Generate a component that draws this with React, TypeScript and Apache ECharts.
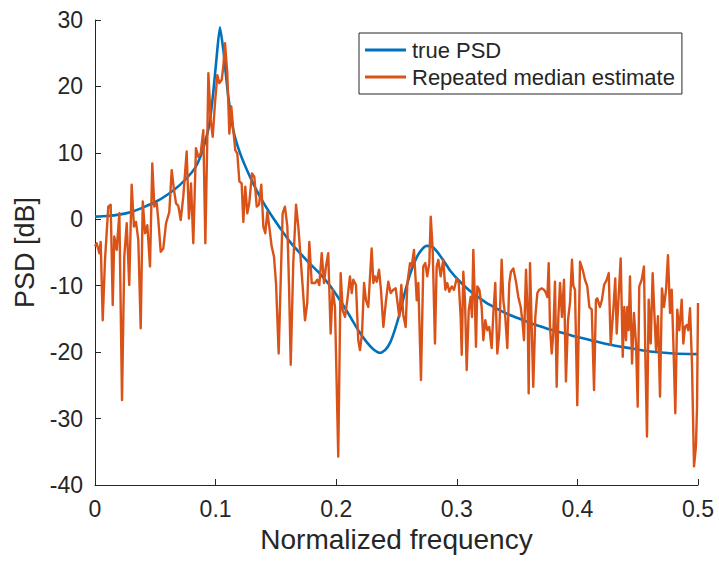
import React, { useEffect, useRef } from "react";
import * as echarts from "echarts";

const xTickValues = [0, 0.1, 0.2, 0.3, 0.4, 0.5];
const yTickValues = [-40, -30, -20, -10, 0, 10, 20, 30];
const seriesNames = ["true PSD", "Repeated median estimate"];

const trueFreq = [
  0, 0.01, 0.02, 0.03, 0.04, 0.05, 0.06, 0.07, 0.08, 0.085, 0.09, 0.095, 0.098, 0.1009,
  0.1036, 0.1064, 0.109, 0.1105, 0.1147, 0.1202, 0.1285, 0.1368, 0.1451, 0.1534, 0.1617,
  0.17, 0.1783, 0.1866, 0.1949, 0.2032, 0.2114, 0.219, 0.2253, 0.231, 0.2363, 0.2405,
  0.2446, 0.2487, 0.2529, 0.257, 0.2612, 0.2653, 0.2695, 0.275, 0.2792, 0.2833, 0.2889,
  0.2944, 0.3027, 0.311, 0.3192, 0.3275, 0.3358, 0.3441, 0.3524, 0.3607, 0.369, 0.3773,
  0.3856, 0.3994, 0.413, 0.427, 0.4436, 0.4602, 0.48, 0.5,
];
const trueDb = [
  0.4, 0.5, 0.7, 1.1, 1.8, 2.6, 3.7, 5.1, 7.0, 8.4, 10.8, 14.5, 19.0, 24.5,
  28.9, 25.5, 21.0, 18.5, 13.4, 10.0, 6.4, 3.4, 0.9, -1.3, -3.4,
  -5.1, -6.7, -8.2, -10.0, -12.2, -14.6, -16.9, -18.5, -19.6, -20.1, -19.7,
  -18.6, -16.6, -14.0, -11.0, -8.3, -6.3, -4.9, -4.0, -4.1, -4.8, -6.2,
  -7.7, -9.4, -10.8, -11.9, -12.9, -13.7, -14.4, -15.0, -15.6, -16.1, -16.6,
  -17.0, -17.7, -18.3, -18.9, -19.4, -19.9, -20.2, -20.3,
];

const estFreq = [
  0.0, 0.0014, 0.0036, 0.0047, 0.0064, 0.0083, 0.011, 0.013, 0.0147, 0.016, 0.018, 0.0202,
  0.0224, 0.0243, 0.0263, 0.0284, 0.0304, 0.0323, 0.034, 0.0359, 0.0379, 0.0396, 0.0415,
  0.0434, 0.0456, 0.0475, 0.0492, 0.0512, 0.0525, 0.0545, 0.0566, 0.0589, 0.0616, 0.0636,
  0.0655, 0.0672, 0.0691, 0.0711, 0.0732, 0.076, 0.0779, 0.0796, 0.0815, 0.0837, 0.0857,
  0.0876, 0.0898, 0.0915, 0.0931, 0.094, 0.0959, 0.0976, 0.0995, 0.1014, 0.1031, 0.1051,
  0.1064, 0.1078, 0.1097, 0.1114, 0.113, 0.1147, 0.1163, 0.118, 0.1197, 0.1216, 0.123,
  0.1246, 0.1263, 0.1279, 0.1302, 0.1321, 0.1341, 0.136, 0.1379, 0.1396, 0.1412, 0.1429,
  0.1445, 0.1465, 0.1484, 0.1501, 0.1523, 0.154, 0.1556, 0.1575, 0.1595, 0.1609, 0.1623,
  0.1644, 0.1667, 0.1686, 0.1706, 0.1722, 0.1741, 0.176, 0.1777, 0.1797, 0.1824, 0.1843,
  0.186, 0.188, 0.1899, 0.1915, 0.1934, 0.1954, 0.1971, 0.199, 0.2017, 0.2037, 0.2054,
  0.2073, 0.2092, 0.2114, 0.2129, 0.2142, 0.2164, 0.2183, 0.2197, 0.2214, 0.2231, 0.2247,
  0.2266, 0.2294, 0.2308, 0.2322, 0.2336, 0.2355, 0.2371, 0.2391, 0.2413, 0.2432, 0.2452,
  0.2473, 0.2493, 0.2506, 0.2523, 0.254, 0.2556, 0.2576, 0.259, 0.2612, 0.2626, 0.2645,
  0.2668, 0.2681, 0.2703, 0.2722, 0.2739, 0.2755, 0.2772, 0.2784, 0.28, 0.2819, 0.2833,
  0.2847, 0.2866, 0.2888, 0.2905, 0.2921, 0.2938, 0.2958, 0.2977, 0.2999, 0.3016, 0.3032,
  0.3041, 0.3054, 0.3068, 0.3082, 0.3099, 0.3115, 0.3126, 0.3137, 0.3151, 0.3159, 0.317,
  0.3187, 0.3206, 0.322, 0.3236, 0.3253, 0.3269, 0.3289, 0.3303, 0.3319, 0.3336, 0.3352,
  0.3372, 0.3386, 0.3402, 0.3419, 0.3435, 0.3449, 0.3469, 0.3491, 0.351, 0.353, 0.3546,
  0.3557, 0.3574, 0.3588, 0.3596, 0.3607, 0.3621, 0.3634, 0.3651, 0.3668, 0.3684, 0.3704,
  0.3723, 0.374, 0.3751, 0.3762, 0.3773, 0.3787, 0.38, 0.3814, 0.3828, 0.3842, 0.3856,
  0.3872, 0.3889, 0.3905, 0.3922, 0.3939, 0.3955, 0.3966, 0.398, 0.3999, 0.4022, 0.4044,
  0.4063, 0.4082, 0.4099, 0.4119, 0.4138, 0.4154, 0.4165, 0.4187, 0.4204, 0.4221, 0.4243,
  0.426, 0.4276, 0.4298, 0.4314, 0.4326, 0.4342, 0.4359, 0.4376, 0.4389, 0.4403, 0.4414,
  0.4425, 0.4436, 0.4453, 0.4469, 0.4486, 0.45, 0.4513, 0.4533, 0.4552, 0.4563, 0.4577,
  0.4591, 0.4608, 0.4624, 0.4638, 0.4652, 0.4668, 0.4685, 0.4701, 0.4718, 0.4735, 0.4751,
  0.4768, 0.4782, 0.4795, 0.4812, 0.4828, 0.4845, 0.4865, 0.4878, 0.4892, 0.4906, 0.4919,
  0.4934, 0.495, 0.4967, 0.4983, 0.4992, 0.5,
];
const estDb = [
  -4.1, -3.6, -5.1, -3.4, -15.2, -6.1, 1.9, 2.2, -12.9, -2.6, -4.6, 0.9,
  -27.2, -5.6, -0.6, -9.9, 5.2, -1.1, -0.4, -3.1, -16.4, 2.7, -2.1,
  -0.9, -7.1, 8.4, 1.9, 2.4, -0.1, -4.9, -4.4, -0.6, 1.1, 7.4,
  4.4, 2.4, 2.0, -0.1, 3.4, 10.2, 0.1, 5.4, -3.6, 10.7, 9.4,
  9.9, 13.4, -3.6, 11.9, 22.0, 15.0, 12.4, 17.5, 21.7, 20.5, 21.0,
  23.0, 26.5, 22.0, 12.9, 17.0, 13.4, 10.4, 9.9, 5.7, 5.4, -0.4,
  4.9, 0.9, 2.4, 6.9, 6.4, 1.9, 2.2, 5.2, -1.1, -2.1, 1.1,
  -1.1, -4.1, -5.6, -9.6, -20.2, -9.1, 0.9, 1.9, -1.1, -10.1, -21.9,
  -6.6, 2.2, -1.1, -6.1, -10.1, -15.2, -12.6, -3.4, -9.6, -9.6, -9.1,
  -9.9, -5.1, -9.6, -7.1, -5.1, -17.2, -10.6, -13.2, -35.7, -8.1, -13.7,
  -14.7, -12.2, -8.6, -11.1, -9.1, -9.9, -18.2, -19.7, -17.2, -9.6, -12.2,
  -13.2, -4.4, -9.6, -8.6, -9.4, -7.6, -10.6, -16.2, -12.2, -9.4, -11.1,
  -10.6, -10.4, -12.2, -14.7, -9.9, -14.4, -16.2, -9.6, -6.6, -7.1, -4.6,
  -12.2, -9.6, -24.2, -7.1, -6.6, -8.6, -6.6, 0.4, -4.6, -18.7, -7.1,
  -6.1, -8.6, -6.1, -10.6, -9.6, -10.9, -10.1, -10.6, -8.9, -9.6, -14.7,
  -20.4, -7.9, -12.2, -22.7, -13.7, -11.7, -14.7, -4.6, -13.2, -19.2, -10.1,
  -10.6, -13.2, -18.2, -15.2, -16.7, -16.2, -19.4, -14.2, -9.6, -20.2, -17.2,
  -6.1, -12.2, -14.7, -19.4, -9.6, -7.9, -7.4, -9.4, -11.7, -13.2, -15.7,
  -18.2, -7.6, -14.7, -26.2, -6.6, -16.2, -25.2, -14.7, -11.1, -10.6, -10.4,
  -10.6, -11.1, -11.7, -6.6, -16.2, -20.2, -17.2, -9.4, -25.2, -14.7, -9.6,
  -14.7, -9.1, -24.4, -15.2, -12.5, -6.1, -10.0, -10.6, -28.0, -6.4, -7.6,
  -9.1, -10.1, -13.2, -13.6, -25.7, -12.1, -11.9, -13.2, -12.1, -9.9, -9.1,
  -8.1, -18.9, -13.6, -8.9, -17.2, -11.6, -5.9, -20.7, -13.2, -18.2, -13.2,
  -16.7, -8.6, -21.7, -14.1, -18.7, -28.2, -10.1, -9.1, -7.1, -20.2, -32.7,
  -12.1, -18.7, -8.1, -14.1, -19.7, -14.6, -26.7, -10.4, -13.2, -10.6, -5.4,
  -14.1, -10.6, -18.2, -29.2, -13.6, -16.7, -12.1, -18.7, -16.2, -15.9, -16.7,
  -13.4, -21.7, -37.2, -34.2, -28.2, -12.6,
];

const FONT = "'Liberation Sans', Arial, Helvetica, sans-serif";
const INK = "#262626";

export default function App() {
  const ref = useRef<HTMLDivElement>(null);
  useEffect(() => {
    if (!ref.current) return;
    const chart = echarts.init(ref.current, null, { renderer: "svg" });
    const truePts = trueFreq.map((f, i) => [f, trueDb[i]]);
    const estPts = estFreq.map((f, i) => [f, estDb[i]]);
    chart.setOption({
      animation: false,
      backgroundColor: "#ffffff",
      textStyle: { fontFamily: FONT },
      grid: { left: 95, right: 21, top: 20, bottom: 78 },
      legend: {
        data: seriesNames,
        orient: "vertical",
        left: 359,
        top: 33,
        padding: [6, 7, 6, 6],
        itemGap: 5,
        itemWidth: 41,
        itemHeight: 3,
        icon: "rect",
        backgroundColor: "#ffffff",
        borderColor: INK,
        borderWidth: 1,
        borderRadius: 0,
        textStyle: { fontFamily: FONT, fontSize: 22, color: INK, padding: [0, 0, 0, 1] },
      },
      xAxis: {
        type: "value",
        min: 0,
        max: 0.5,
        interval: 0.1,
        name: "Normalized frequency",
        nameLocation: "middle",
        nameGap: 40,
        nameTextStyle: { fontFamily: FONT, fontSize: 28, color: INK },
        axisLine: { show: true, onZero: false, lineStyle: { color: INK, width: 1 } },
        axisTick: { show: true, inside: true, length: 6, lineStyle: { color: INK } },
        axisLabel: {
          fontFamily: FONT,
          fontSize: 23,
          color: INK,
          margin: 12,
          formatter: (v: number) => (xTickValues.includes(Math.round(v * 10) / 10) ? String(Math.round(v * 10) / 10) : ""),
        },
        splitLine: { show: false },
      },
      yAxis: {
        type: "value",
        min: yTickValues[0],
        max: yTickValues[yTickValues.length - 1],
        interval: 10,
        name: "PSD [dB]",
        nameLocation: "middle",
        nameGap: 52,
        nameTextStyle: { fontFamily: FONT, fontSize: 27, color: INK },
        axisLine: { show: true, onZero: false, lineStyle: { color: INK, width: 1 } },
        axisTick: { show: true, inside: true, length: 6, lineStyle: { color: INK } },
        axisLabel: { fontFamily: FONT, fontSize: 23, color: INK, margin: 12 },
        splitLine: { show: false },
      },
      series: [
        {
          name: seriesNames[0],
          type: "line",
          data: truePts,
          showSymbol: false,
          symbol: "none",
          smooth: 0.2,
          lineStyle: { color: "#0072BD", width: 2.6 },
          itemStyle: { color: "#0072BD" },
          z: 2,
        },
        {
          name: seriesNames[1],
          type: "line",
          data: estPts,
          showSymbol: false,
          symbol: "none",
          lineStyle: { color: "#D95319", width: 2.4, join: "round" },
          itemStyle: { color: "#D95319" },
          z: 3,
        },
      ],
    });
    return () => chart.dispose();
  }, []);
  return (
    <div
      ref={ref}
      style={{ position: "fixed", left: 0, top: 0, width: 719, height: 563, background: "#fff" }}
    />
  );
}
